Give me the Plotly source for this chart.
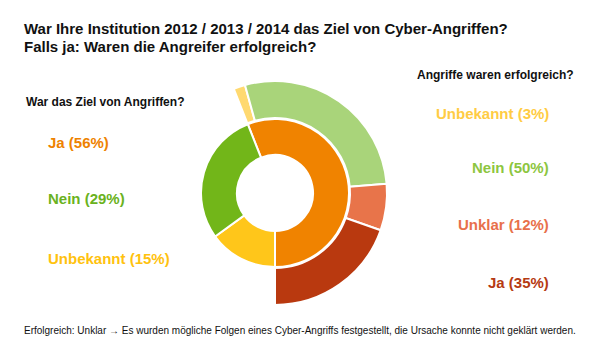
import plotly.graph_objects as go

W, H = 598, 351

# Inner ring: Was the institution the target of attacks?
inner_labels = ["Ja", "Unbekannt", "Nein"]
inner_values = [56, 15, 29]
inner_colors = ["#F08300", "#FFC61A", "#72B619"]

# Outer ring: were attacks successful? (share of the "Ja" group)
outer_labels = ["Unbekannt", "Nein", "Unklar", "Ja"]
outer_values = [3, 50, 12, 35]
outer_colors = ["#FFD970", "#A9D47A", "#E8744A", "#B9390F"]

# Text legends
left_title = "War das Ziel von Angriffen?"
left_items = ["Ja (56%)", "Nein (29%)", "Unbekannt (15%)"]
left_colors = ["#EE8200", "#6AB220", "#FFC20E"]
right_title = "Angriffe waren erfolgreich?"
right_items = ["Unbekannt (3%)", "Nein (50%)", "Unklar (12%)", "Ja (35%)"]
right_colors = ["#FFCC44", "#8DC63F", "#E8704B", "#B53A12"]

title1 = "War Ihre Institution 2012 / 2013 / 2014 das Ziel von Cyber-Angriffen?"
title2 = "Falls ja: Waren die Angreifer erfolgreich?"
footnote = ("Erfolgreich: Unklar \u2192 Es wurden m\u00f6gliche Folgen eines Cyber-Angriffs "
            "festgestellt, die Ursache konnte nicht gekl\u00e4rt werden.")

FONT = "Liberation Sans, Arial, sans-serif"

def px_x(x):
    return x / W

def px_y(y):
    return 1 - y / H

cx, cy = 275, 193
r_in, r_out = 74, 112

ja_share = inner_values[0]
total_inner = sum(inner_values)
outer_scaled = [v * ja_share / 100 for v in outer_values] + [total_inner - ja_share]
start_rot = 180 - ja_share / total_inner * 360  # Ja ends at 6 o'clock

fig = go.Figure()

fig.add_trace(go.Pie(
    values=outer_scaled,
    labels=outer_labels + [""],
    sort=False,
    direction="clockwise",
    rotation=start_rot,
    hole=75 / r_out,
    marker=dict(colors=outer_colors + ["rgba(0,0,0,0)"],
                line=dict(color=["white"] * 4 + ["rgba(0,0,0,0)"], width=2)),
    textinfo="none",
    hoverinfo="skip",
    showlegend=False,
    domain=dict(x=[px_x(cx - r_out), px_x(cx + r_out)],
                y=[px_y(cy + r_out), px_y(cy - r_out)]),
))

fig.add_trace(go.Pie(
    values=inner_values,
    labels=inner_labels,
    sort=False,
    direction="clockwise",
    rotation=start_rot,
    hole=38 / r_in,
    marker=dict(colors=inner_colors, line=dict(color="white", width=2)),
    textinfo="none",
    hoverinfo="skip",
    showlegend=False,
    domain=dict(x=[px_x(cx - r_in), px_x(cx + r_in)],
                y=[px_y(cy + r_in), px_y(cy - r_in)]),
))

ann = []
def add(text, x, y, size, color, xanchor="left", bold=True):
    ann.append(dict(text=f"<b>{text}</b>" if bold else text, x=px_x(x), y=px_y(y),
                    xref="paper", yref="paper", xanchor=xanchor, yanchor="middle",
                    showarrow=False, font=dict(family=FONT, size=size, color=color)))

add(title1, 22, 28, 15, "#111111")
add(title2, 22, 46, 15, "#111111")
add(left_title, 24, 102, 12, "#111111")
for t, c, y in zip(left_items, left_colors, [142, 199, 258]):
    add(t, 46, y, 15, c)
add(right_title, 576, 75, 12, "#111111", xanchor="right")
for t, c, y in zip(right_items, right_colors, [113, 167, 224, 282]):
    add(t, 551, y, 15, c, xanchor="right")
add(footnote, 22, 330, 10, "#111111", bold=False)

fig.update_layout(
    width=W, height=H,
    margin=dict(l=0, r=0, t=0, b=0),
    paper_bgcolor="white", plot_bgcolor="white",
    annotations=ann,
)

fig.write_html("out.html")
